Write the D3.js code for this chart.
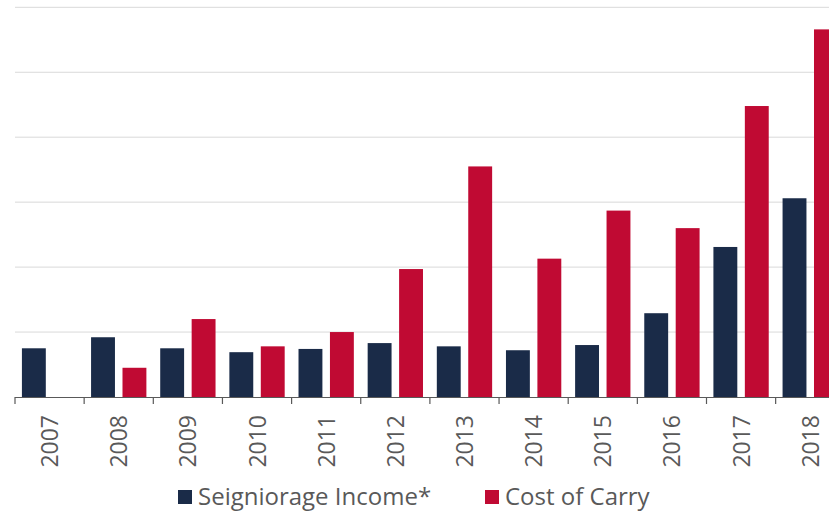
<!DOCTYPE html>
<html>
<head>
<meta charset="utf-8">
<script src="https://cdn.jsdelivr.net/npm/d3@7"></script>
<style>
  html, body { margin: 0; padding: 0; background: #fff; }
  svg { display: block; font-family: "Open Sans", sans-serif; }
</style>
</head>
<body>
<script>
// values, in gridline units (no y labels shown)
const years = ['2007', '2008', '2009', '2010', '2011', '2012', '2013', '2014', '2015', '2016', '2017', '2018'];
const seigniorage = [0.75, 0.92, 0.75, 0.69, 0.74, 0.83, 0.78, 0.72, 0.80, 1.29, 2.31, 3.06];
const costOfCarry = [0, 0.45, 1.20, 0.78, 1.00, 1.97, 3.55, 2.13, 2.87, 2.60, 4.48, 5.66];
const seriesNames = ['Seigniorage Income*', 'Cost of Carry'];
const colors = ['#1a2b48', '#c00a33'];

const W = 829, H = 513;
const svg = d3.select('body').append('svg').attr('width', W).attr('height', H);

const x0 = d3.scaleBand().domain(years).range([15, 15 + 12 * 69.15]);
const x1 = d3.scaleBand().domain([0, 1]).range([0, x0.bandwidth()])
  .paddingInner(0.24).paddingOuter(0.22);
const y = d3.scaleLinear().domain([0, 6]).range([397, 7.3]);

// gridlines
svg.append('g')
  .selectAll('line')
  .data(d3.range(1, 7))
  .join('line')
  .attr('x1', 15).attr('x2', W)
  .attr('y1', d => y(d)).attr('y2', d => y(d))
  .attr('stroke', '#d9d9d9').attr('stroke-width', 1);

// bars
const rows = years.map((yr, i) => ({ yr, vals: [seigniorage[i], costOfCarry[i]] }));
const groups = svg.append('g').selectAll('g')
  .data(rows)
  .join('g')
  .attr('transform', d => `translate(${x0(d.yr)},0)`);
groups.selectAll('rect')
  .data(d => d.vals.map((v, k) => ({ v, k })))
  .join('rect')
  .attr('x', d => x1(d.k))
  .attr('width', x1.bandwidth())
  .attr('y', d => y(d.v))
  .attr('height', d => y(0) - y(d.v))
  .attr('fill', d => colors[d.k]);

// x axis: baseline with ticks at band edges
const axis = svg.append('g');
axis.append('line')
  .attr('x1', 15).attr('x2', W)
  .attr('y1', y(0) + 0.5).attr('y2', y(0) + 0.5)
  .attr('stroke', '#595959').attr('stroke-width', 1.2);
axis.selectAll('line.tick')
  .data(years)
  .join('line')
  .attr('class', 'tick')
  .attr('x1', d => x0(d)).attr('x2', d => x0(d))
  .attr('y1', y(0)).attr('y2', y(0) + 7)
  .attr('stroke', '#595959').attr('stroke-width', 1.2);
axis.selectAll('text')
  .data(years)
  .join('text')
  .attr('transform', d => `translate(${x0(d) + x0.bandwidth() / 2 + 8.5},415) rotate(-90)`)
  .attr('text-anchor', 'end')
  .attr('fill', '#595959')
  .style('font-size', '23px')
  .style('font-weight', 500)
  .text(d => d);

// legend
const legend = svg.append('g');
const legendX = [178, 485];
seriesNames.forEach((name, i) => {
  legend.append('rect')
    .attr('x', legendX[i]).attr('y', 490)
    .attr('width', 14).attr('height', 14)
    .attr('fill', colors[i]);
  legend.append('text')
    .attr('x', legendX[i] + 20).attr('y', 505)
    .attr('fill', '#595959')
    .style('font-size', '24px')
    .style('font-weight', 500)
    .text(name);
});
</script>
</body>
</html>
